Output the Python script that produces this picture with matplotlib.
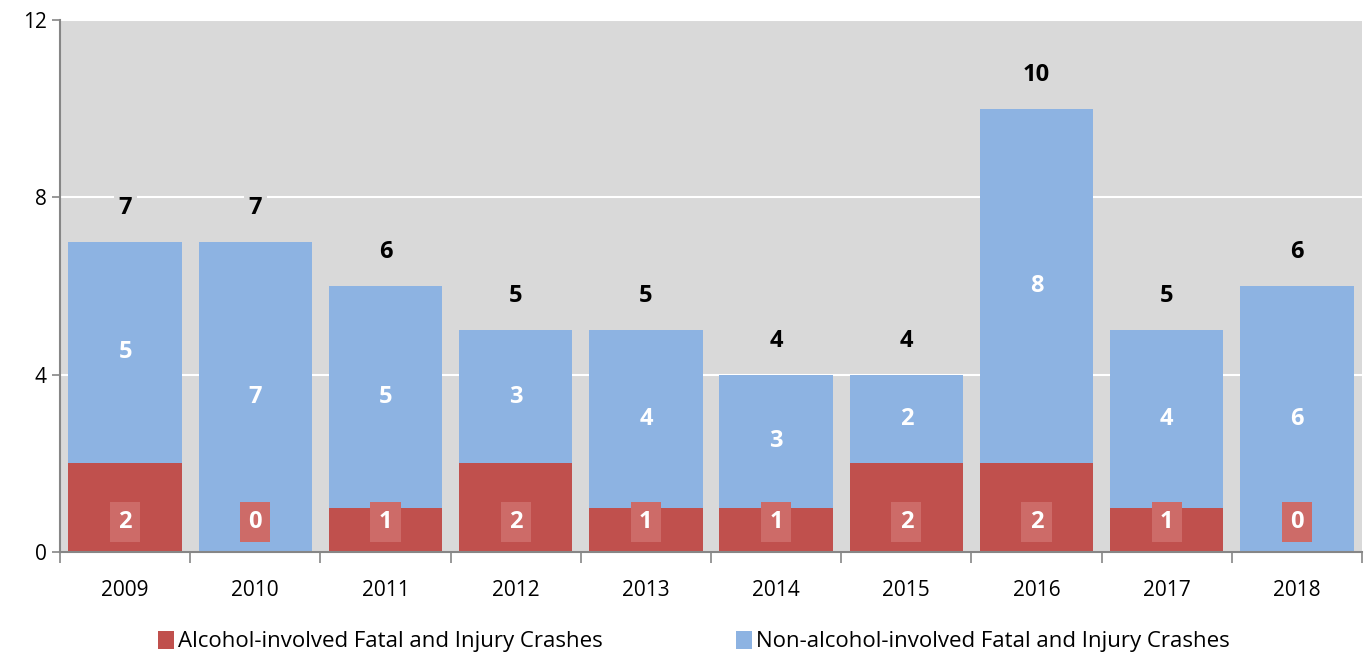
import matplotlib.pyplot as plt
import numpy as np

plt.rcParams['font.family'] = ['Open Sans', 'DejaVu Sans']

years = ['2009', '2010', '2011', '2012', '2013', '2014', '2015', '2016', '2017', '2018']
alcohol = np.array([2, 0, 1, 2, 1, 1, 2, 2, 1, 0])
non_alcohol = np.array([5, 7, 5, 3, 4, 3, 2, 8, 4, 6])
totals = alcohol + non_alcohol

red = '#C0504D'
blue = '#8DB3E2'

fig = plt.figure(figsize=(13.66, 6.56), dpi=100)
ax = fig.add_axes([60 / 1366, 104 / 656, 1302 / 1366, 532 / 656])
ax.set_facecolor('#D9D9D9')

x = np.arange(len(years))
ax.bar(x, alcohol, width=0.87, color=red, label='Alcohol-involved Fatal and Injury Crashes', zorder=2)
ax.bar(x, non_alcohol, width=0.87, bottom=alcohol, color=blue,
       label='Non-alcohol-involved Fatal and Injury Crashes', zorder=2)

for i in range(len(years)):
    # alcohol value in a light red box near the bottom
    ax.text(x[i], 0.68, str(alcohol[i]), ha='center', va='center', color='white',
            fontsize=17, fontweight='bold', zorder=4,
            bbox=dict(boxstyle='square,pad=0.35', fc='#CD6B68', ec='none'))
    ax.text(x[i], alcohol[i] + non_alcohol[i] / 2, str(non_alcohol[i]), ha='center', va='center',
            color='white', fontsize=17, fontweight='bold', zorder=4)
    ax.text(x[i], totals[i] + 0.77, str(totals[i]), ha='center', va='center', color='black',
            fontsize=17, fontweight='bold', zorder=4,
            bbox=dict(boxstyle='square,pad=0.2', fc='#D9D9D9', ec='none'))

ax.set_xlim(-0.5, len(years) - 0.5)
ax.set_ylim(0, 12)
ax.set_yticks([0, 4, 8, 12])
ax.yaxis.grid(True, color='white', linewidth=1.5, zorder=1)
ax.set_axisbelow(True)

ax.set_xticks(x)
ax.set_xticklabels(years, fontsize=15)
ax.set_xticks(np.arange(-0.5, len(years)), minor=True)
ax.tick_params(axis='x', which='major', length=0, pad=20)
ax.tick_params(axis='x', which='minor', length=8, color='#868686', width=1.2)
ax.tick_params(axis='y', labelsize=15, length=6, color='#868686', width=1.2)

for s in ['top', 'right']:
    ax.spines[s].set_visible(False)
for s in ['left', 'bottom']:
    ax.spines[s].set_color('#868686')
    ax.spines[s].set_linewidth(1.5)

fig.legend(loc='lower center', bbox_to_anchor=(0.508, -0.025), ncol=2, frameon=False,
           fontsize=16, handlelength=0.7, handleheight=0.9, handletextpad=0.2, columnspacing=6)

fig.savefig('out.png', dpi=100)
